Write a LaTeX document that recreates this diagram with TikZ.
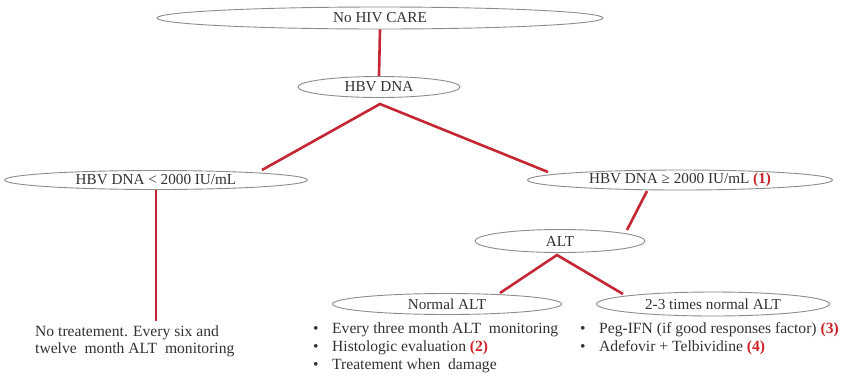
\documentclass[tikz,border=0pt]{standalone}
\usepackage{fontspec}
\setmainfont{Liberation Serif}
\usetikzlibrary{shapes.geometric}
\definecolor{linkred}{RGB}{196,38,52}
\definecolor{numred}{RGB}{205,35,40}
\definecolor{txt}{RGB}{50,50,50}
\definecolor{rim}{RGB}{140,140,140}
\tikzset{
  oval/.style={ellipse, draw=rim, line width=0.9pt, fill=white, inner sep=0pt, text=txt, font=\fontsize{15.2}{17}\selectfont},
  link/.style={draw=linkred, line width=2.6pt},
  plain/.style={text=txt, font=\fontsize{15.6}{17}\selectfont, anchor=west, inner sep=0pt, align=left},
}
\newcommand{\rn}[1]{\textcolor{numred}{\textbf{#1}}}
\begin{document}
\begin{tikzpicture}[x=1pt,y=-1pt]
\useasboundingbox (0,0) rectangle (843,376);
% nodes
\node[oval, minimum width=446pt, minimum height=22pt] (care) at (380,18) {No HIV CARE};
\node[oval, minimum width=162pt, minimum height=21pt] (hbv) at (379,87) {HBV DNA};
\node[oval, minimum width=303pt, minimum height=19pt] (lo) at (156,180) {HBV DNA < 2000 IU/mL};
\node[oval, minimum width=305pt, minimum height=20pt] (hi) at (680,180) {HBV DNA ≥ 2000 IU/mL \rn{(1)}};
\node[oval, minimum width=170pt, minimum height=23pt] (alt) at (560,241) {ALT};
\node[oval, minimum width=229pt, minimum height=21pt] (nalt) at (447,304) {Normal ALT};
\node[oval, minimum width=233pt, minimum height=24pt] (talt) at (713,304) {2-3 times normal ALT};
% connector points
\coordinate (hbvp) at (380,104);
\coordinate (lotop) at (262,170);
\coordinate (hitop) at (548,172);
\coordinate (hib) at (647,191);
\coordinate (alttop) at (627,230);
\coordinate (altp) at (557,255);
\coordinate (naltop) at (500,293);
\coordinate (taltop) at (623,294);
\coordinate (lob) at (156,190);
\coordinate (loend) at (156,321);
% connectors
\draw[link] (care.south) -- (hbv.north);
\draw[link, line join=miter] (lotop) -- (hbvp) -- (hitop);
\draw[link] (hib) -- (alttop);
\draw[link, line join=miter] (naltop) -- (altp) -- (taltop);
\draw[link, line width=1.8pt] (lob) -- (loend);
% texts
\node[plain] (notreat) at (35,341) {No treatement. Every six and\\twelve\ \ month ALT\ \ monitoring};
\node[plain] (b1) at (313,330) {•};
\node[plain] (l1) at (332,330) {Every three month ALT\ \ monitoring};
\node[plain] (b2) at (313,348) {•};
\node[plain] (l2) at (332,348) {Histologic evaluation \rn{(2)}};
\node[plain] (b3) at (313,366) {•};
\node[plain] (l3) at (332,366) {Treatement when\ \ damage};
\node[plain] (b4) at (580,330) {•};
\node[plain] (r1) at (599,330) {Peg-IFN (if good responses factor) \rn{(3)}};
\node[plain] (b5) at (580,348) {•};
\node[plain] (r2) at (599,348) {Adefovir + Telbividine \rn{(4)}};
\end{tikzpicture}
\end{document}
